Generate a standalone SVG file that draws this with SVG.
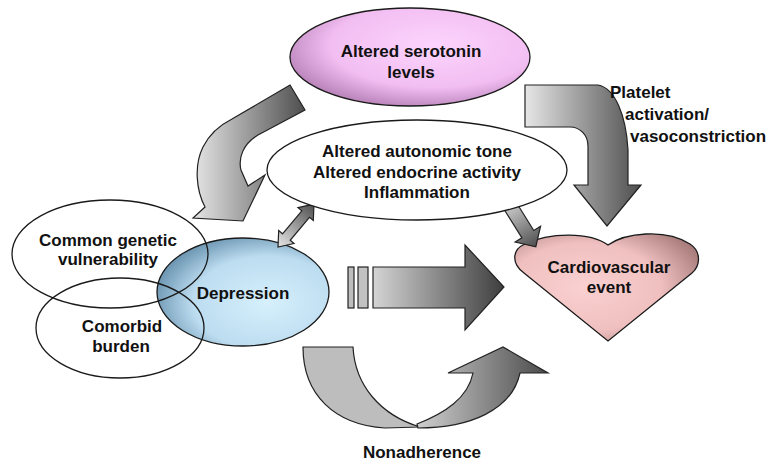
<svg xmlns="http://www.w3.org/2000/svg" width="773" height="466" viewBox="0 0 773 466">
<defs>
<style>
.t{font-family:"Liberation Sans",Arial,sans-serif;font-weight:bold;font-size:17px;fill:#111;text-anchor:middle}
.tl{font-family:"Liberation Sans",Arial,sans-serif;font-weight:bold;font-size:17px;fill:#111}
.o{stroke:#1a1a1a;stroke-width:1.3}
.a{stroke:#222;stroke-width:1.2;stroke-linejoin:miter}
</style>
<linearGradient id="gArrow" x1="0" y1="0" x2="1" y2="0">
<stop offset="0" stop-color="#e6e6e6"/><stop offset="1" stop-color="#4e4e4e"/>
</linearGradient>
<linearGradient id="gBig" x1="0" y1="0" x2="1" y2="0">
<stop offset="0" stop-color="#d4d4d4"/><stop offset="1" stop-color="#3e3e3e"/>
</linearGradient>
<linearGradient id="gNon" x1="0" y1="0" x2="1" y2="0">
<stop offset="0" stop-color="#cfcfcf"/><stop offset="1" stop-color="#4a4a4a"/>
</linearGradient>
<radialGradient id="gSer" cx="0.6" cy="0.38" r="0.72">
<stop offset="0" stop-color="#fcd4fc"/><stop offset="0.6" stop-color="#f2bef2"/><stop offset="1" stop-color="#a872a8"/>
</radialGradient>
<radialGradient id="gDep" cx="0.64" cy="0.6" r="0.72">
<stop offset="0" stop-color="#d6f0fc"/><stop offset="0.6" stop-color="#bcdcf0"/><stop offset="1" stop-color="#5a86a4"/>
</radialGradient>
<radialGradient id="gHeart" cx="0.38" cy="0.5" r="0.75">
<stop offset="0" stop-color="#fad0d0"/><stop offset="0.55" stop-color="#f0c0c0"/><stop offset="1" stop-color="#9a6e6e"/>
</radialGradient>
</defs>
<rect width="773" height="466" fill="#fff"/>

<g id="node-serotonin">
<ellipse class="o" cx="410" cy="57" rx="120" ry="49" fill="url(#gSer)"/>
<text class="t" x="411" y="57">Altered serotonin</text>
<text class="t" x="411" y="78">levels</text>
</g>

<g id="node-cardiovascular">
<path class="o" d="M608,245 C625,233 665,228 690,244 C702,252 700,266 692,273 L608,341 L524,273 C512,264 511,250 525,244 C550,232 590,232 608,245 Z" fill="url(#gHeart)"/>
<text class="t" x="609" y="273">Cardiovascular</text>
<text class="t" x="609" y="293">event</text>
</g>

<g id="node-depression">
<ellipse class="o" cx="243" cy="292" rx="86" ry="54" fill="url(#gDep)"/>
<text class="t" x="243" y="299">Depression</text>
</g>

<g id="node-genetic">
<ellipse class="o" cx="110" cy="254" rx="98" ry="54" fill="none"/>
<text class="t" x="108" y="246">Common genetic</text>
<text class="t" x="108" y="265">vulnerability</text>
</g>

<g id="node-comorbid">
<ellipse class="o" cx="120" cy="328" rx="84" ry="50" fill="none"/>
<text class="t" x="122" y="332">Comorbid</text>
<text class="t" x="121" y="352">burden</text>
</g>

<g id="connectors">
<path class="a" fill="url(#gArrow)" d="M290,85 L305,110 L258,135 C243,144 238,158 241,170 L248,186 L265,175 L243,221 L193,218 L205,207 C196,190 194,165 203,147 C210,133 220,125 232,119 Z"/>
<path class="a" fill="url(#gArrow)" d="M525,85 L598,85 C615,88 626,115 628,150 L628,185 L641,185 L607,226 L574,185 L588,185 L588,146 C588,135 580,127 570,127 L525,127 Z"/>
<path class="a" fill="url(#gArrow)" transform="translate(278,247) rotate(-50)" d="M0,0 L13,-10 L13,-5 L43,-5 L43,-10 L56,0 L43,10 L43,5 L13,5 L13,10 Z"/>
<path class="a" fill="url(#gArrow)" transform="translate(504,196) rotate(58)" d="M0,-7 L45,-7 L45,-15 L60,0 L45,15 L45,7 L0,7 Z"/>
<rect class="a" x="348" y="267" width="6" height="41" fill="#bdbdbd"/>
<rect class="a" x="358" y="267" width="10" height="41" fill="#c2c2c2"/>
<path class="a" fill="url(#gBig)" d="M373,267 L465,267 L465,245 L504,287 L465,330 L465,308 L373,308 Z"/>
<path class="a" fill="#bdbdbd" d="M303,347 L353,347 C355,385 380,415 420,427 L385,428 C335,425 303,395 303,347 Z"/>
<path class="a" fill="url(#gNon)" d="M417,424 C445,413 468,398 473,373 L448,373 L503,347 L548,373 L520,373 C512,410 470,428 418,428 Z"/>
</g>

<g id="node-mechanisms">
<ellipse class="o" cx="417" cy="170" rx="150" ry="50" fill="#fff"/>
<text class="t" x="417" y="157">Altered autonomic tone</text>
<text class="t" x="417" y="178">Altered endocrine activity</text>
<text class="t" x="417" y="198">Inflammation</text>
</g>

<g id="labels">
<text class="tl" x="610" y="98">Platelet</text>
<text class="tl" x="625" y="120">activation/</text>
<text class="tl" x="630" y="142">vasoconstriction</text>
<text class="t" x="422" y="458">Nonadherence</text>
</g>
</svg>
